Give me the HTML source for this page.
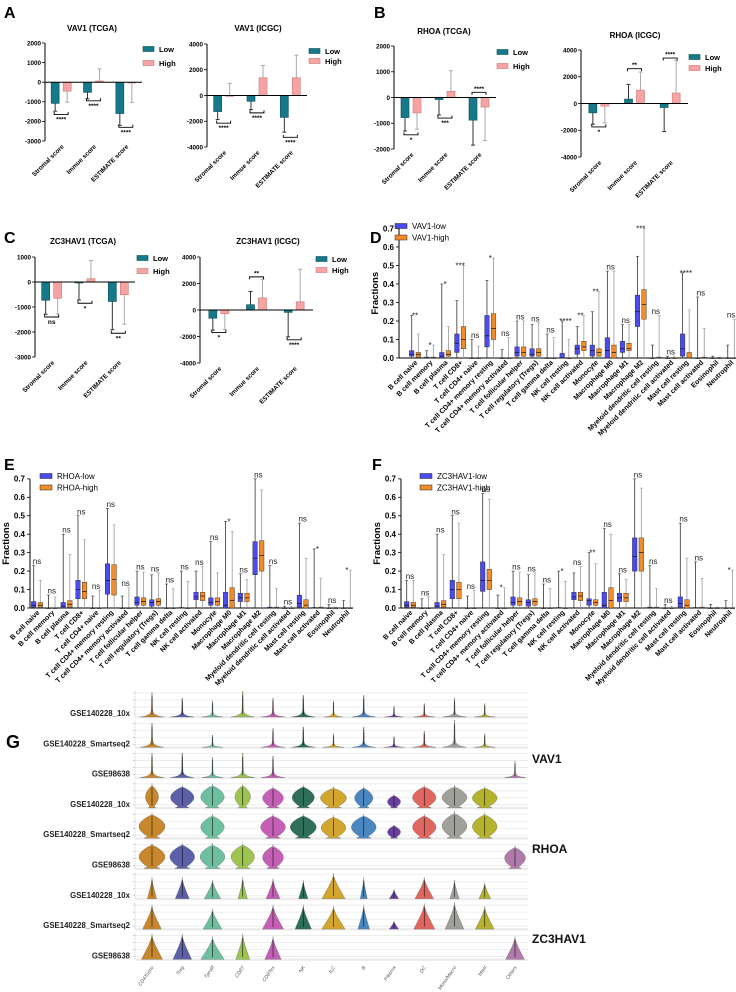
<!DOCTYPE html>
<html><head><meta charset="utf-8"><style>
html,body{margin:0;padding:0;background:#fff}
svg{display:block;font-family:"Liberation Sans",Arial,sans-serif}
</style></head><body>
<svg id="fig" width="736" height="992" viewBox="0 0 736 992">
<rect width="736" height="992" fill="#fff"/>
</svg>
<script>
// ---------- Bar chart data (panels A-C) ----------
const barCats = ["Stromal score","Immue score","ESTIMATE score"];
const a1Low = [-1080,-520,-1600], a1High = [-460,60,-10], a1LowErr = [400,330,600], a1HighErr = [560,620,1020], a1Brk = [-1650,-950,-2300], a1Stars = ["****","****","****"];
const a2Low = [-1250,-450,-1700], a2High = [0,1380,1380], a2LowErr = [620,650,1150], a2HighErr = [950,950,1750], a2Brk = [-2150,-1350,-3250], a2Stars = ["****","****","****"];
const b1Low = [-780,-80,-880], b1High = [-600,240,-370], b1LowErr = [520,600,970], b1HighErr = [630,800,1300], b1Brk = [-1450,-800,200], b1Stars = ["*","***","****"];
const b2Low = [-700,330,-300], b2High = [-200,1000,780], b2LowErr = [850,1100,1800], b2HighErr = [1250,1350,2450], b2Brk = [-1750,2600,3400], b2Stars = ["*","**","****"];
const c1Low = [-730,-40,-780], c1High = [-650,130,-510], c1LowErr = [560,680,1130], c1HighErr = [630,730,1180], c1Brk = [-1400,-850,-2050], c1Stars = ["ns","*","**"];
const c2Low = [-620,400,-180], c2High = [-280,920,620], c2LowErr = [900,1000,1850], c2HighErr = [1200,1400,2450], c2Brk = [-1700,2500,-2250], c2Stars = ["*","**","****"];

// ---------- Box plot data (panels D-F): [q1, median, q3, max], min = 0 ----------
const immuneCats = ["B cell naive","B cell memory","B cell plasma","T cell CD8+","T cell CD4+ naive","T cell CD4+ memory resting","T cell CD4+ memory activated","T cell follicular helper","T cell regulatory (Tregs)","T cell gamma delta","NK cell resting","NK cell activated","Monocyte","Macrophage M0","Macrophage M1","Macrophage M2","Myeloid dendritic cell resting","Myeloid dendritic cell activated","Mast cell resting","Mast cell activated","Eosinophil","Neutrophil"];
const fracTicks = [0,0.1,0.2,0.3,0.4,0.5,0.6,0.7];
const dLow = [[0.01,0.02,0.04,0.23],[0,0,0.005,0.04],[0,0.01,0.03,0.40],[0.03,0.08,0.13,0.31],[0,0,0,0.10],[0.06,0.12,0.23,0.42],[0,0,0,0.045],[0.01,0.03,0.06,0.20],[0.01,0.02,0.05,0.18],[0,0,0,0.13],[0,0,0.025,0.20],[0.02,0.05,0.07,0.17],[0.01,0.04,0.07,0.25],[0,0.04,0.11,0.47],[0.03,0.05,0.09,0.18],[0.17,0.25,0.34,0.55],[0,0,0,0.07],[0,0,0,0.01],[0.01,0.05,0.13,0.46],[0,0,0,0.33],[0,0,0,0.01],[0,0,0,0.07]];
const dHigh = [[0.005,0.02,0.03,0.13],[0,0,0.005,0.07],[0.01,0.02,0.04,0.17],[0.05,0.10,0.17,0.50],[0,0,0,0.065],[0.10,0.16,0.24,0.54],[0,0,0,0.11],[0.01,0.03,0.06,0.20],[0.01,0.03,0.05,0.19],[0,0,0,0.11],[0,0,0,0.10],[0.04,0.06,0.09,0.23],[0.01,0.03,0.05,0.36],[0,0.03,0.07,0.47],[0.04,0.05,0.08,0.18],[0.21,0.29,0.37,0.70],[0,0,0.005,0.23],[0,0,0,0.01],[0,0,0.03,0.26],[0,0,0.005,0.16],[0,0,0,0.005],[0,0,0,0.21]];
const dStars = ["**","*","*","***","ns","*","ns","ns","ns","ns","****","**","**","ns","ns","***","ns","ns","****","ns","","ns"];
const eLow = [[0.005,0.015,0.035,0.23],[0,0,0,0.07],[0,0.01,0.03,0.40],[0.05,0.10,0.15,0.50],[0,0,0,0.065],[0.075,0.15,0.24,0.54],[0,0,0,0.065],[0.015,0.03,0.06,0.20],[0.01,0.03,0.045,0.18],[0,0,0,0.13],[0,0,0.003,0.20],[0.045,0.06,0.085,0.20],[0.015,0.03,0.055,0.36],[0,0.015,0.085,0.47],[0.035,0.055,0.08,0.185],[0.18,0.27,0.36,0.70],[0,0,0.005,0.23],[0,0,0,0.01],[0.005,0.025,0.07,0.46],[0,0,0.003,0.32],[0,0,0,0.02],[0,0,0,0.04]];
const eHigh = [[0.005,0.015,0.03,0.15],[0,0,0,0.06],[0.005,0.02,0.04,0.29],[0.05,0.09,0.14,0.37],[0,0,0,0.095],[0.07,0.155,0.235,0.45],[0,0,0,0.11],[0.015,0.035,0.055,0.195],[0.015,0.035,0.05,0.19],[0,0,0,0.105],[0,0,0,0.145],[0.04,0.065,0.085,0.225],[0.015,0.035,0.055,0.19],[0,0.04,0.11,0.415],[0.035,0.055,0.08,0.155],[0.20,0.285,0.365,0.64],[0,0,0.005,0.105],[0,0,0,0.01],[0,0.015,0.045,0.27],[0,0,0.005,0.16],[0,0,0,0.005],[0,0,0,0.205]];
const eStars = ["ns","ns","ns","ns","ns","ns","ns","ns","ns","ns","ns","ns","ns","*","ns","ns","ns","ns","ns","*","ns","*"];
const fLow = [[0.005,0.015,0.035,0.15],[0,0,0,0.05],[0,0.01,0.03,0.40],[0.05,0.10,0.15,0.50],[0,0,0,0.065],[0.09,0.15,0.25,0.62],[0,0,0,0.07],[0.015,0.03,0.06,0.20],[0.01,0.03,0.045,0.18],[0,0,0,0.13],[0,0,0.003,0.20],[0.045,0.06,0.085,0.19],[0.015,0.04,0.05,0.30],[0,0.015,0.085,0.43],[0.035,0.055,0.08,0.185],[0.20,0.28,0.38,0.70],[0,0,0.005,0.23],[0,0,0,0.02],[0.005,0.025,0.06,0.46],[0,0,0.003,0.25],[0,0,0,0.02],[0,0,0,0.04]];
const fHigh = [[0.005,0.015,0.03,0.15],[0,0,0,0.06],[0.005,0.02,0.04,0.29],[0.05,0.10,0.14,0.46],[0,0,0,0.095],[0.10,0.15,0.21,0.59],[0,0,0,0.11],[0.015,0.035,0.055,0.195],[0.015,0.035,0.05,0.19],[0,0,0,0.105],[0,0,0,0.145],[0.04,0.065,0.085,0.225],[0.015,0.03,0.045,0.24],[0,0.04,0.11,0.40],[0.035,0.055,0.08,0.155],[0.20,0.30,0.38,0.65],[0,0,0.005,0.105],[0,0,0,0.01],[0,0.015,0.045,0.27],[0,0,0.005,0.16],[0,0,0,0.005],[0,0,0,0.205]];
const fStars = ["ns","ns","ns","ns","ns","ns","*","ns","ns","ns","*","ns","**","ns","ns","ns","ns","ns","ns","ns","","*"];

// ---------- Violin data (panel G) ----------
const cellTypes = ["CD4Tconv","Treg","Tprolif","CD8T","CD8Tex","NK","ILC","B","Plasma","DC","Mono/Macro","Mast","Others"];
const rowNames = ["GSE140228_10x","GSE140228_Smartseq2","GSE98638","GSE140228_10x","GSE140228_Smartseq2","GSE98638","GSE140228_10x","GSE140228_Smartseq2","GSE98638"];
const rowGenes = ["VAV1","VAV1","VAV1","RHOA","RHOA","RHOA","ZC3HAV1","ZC3HAV1","ZC3HAV1"];
const vWidth = [
 [0.9,0.9,0.8,0.9,0.9,0.9,0.7,0.9,0.7,0.8,0.9,0.8,0],
 [0.9,0,0.8,0,0.9,0.9,0.8,0.9,0.8,0.9,0.9,0.8,0],
 [0.9,0.9,0.8,0.9,0.9,0,0,0,0,0,0,0,0.8],
 [0.5,0.9,0.9,0.6,0.8,0.85,1.0,0.7,0.5,0.9,0.95,0.95,0],
 [1.0,0,0.9,0,0.95,1.0,0.95,0.95,0.5,0.9,0.95,0.95,0],
 [1.0,0.95,0.95,0.9,0.8,0,0,0,0,0,0,0,0.8],
 [0.4,0.6,0.7,0.4,0.6,0.4,1.0,0.3,0.4,0.8,0.4,0.5,0],
 [0.8,0,0.8,0,0.9,0.7,1.0,0.5,0.4,0.9,0.8,0.8,0],
 [0.9,0.8,1.0,0.6,0.7,0,0,0,0,0,0,0,0.8]];
const vHeight = [
 [0.9,0.7,0.6,0.95,0.7,0.8,0.6,0.8,0.4,0.5,0.7,0.5,0],
 [0.9,0,0.45,0,0.7,0.75,0.5,0.75,0.4,0.6,1.0,0.5,0],
 [0.9,0.9,0.75,0.9,0.8,0,0,0,0,0,0,0,0.6],
 [0.9,0.85,0.9,0.9,0.8,0.85,0.8,0.8,0.5,0.85,0.85,0.8,0],
 [0.95,0,0.9,0,0.9,0.9,0.85,0.9,0.5,0.9,1.0,0.95,0],
 [0.95,0.95,0.95,0.95,0.9,0,0,0,0,0,0,0,0.85],
 [0.8,0.8,0.7,0.8,0.75,0.7,0.95,0.8,0.35,0.8,0.7,0.6,0],
 [0.9,0,0.75,0,0.9,0.9,0.85,0.9,0.3,0.95,1.0,0.85,0],
 [0.95,0.95,0.85,0.95,0.85,0,0,0,0,0,0,0,0.85]];
const cellColors = ["#c8872c","#5c60a8","#6dbfa0","#9cc44f","#c45fb5","#2e6e5a","#d2a62c","#4a86c0","#6a3fa0","#e0665e","#a0a09a","#b5b22e","#b07aaa"];

const NS="http://www.w3.org/2000/svg";
const svg=document.getElementById('fig');
function el(tag,attrs,parent,text){const e=document.createElementNS(NS,tag);for(const k in attrs)e.setAttribute(k,attrs[k]);if(text!==undefined)e.textContent=text;(parent||svg).appendChild(e);return e;}
function grp(name,parent){const g=el('g',{},parent);return g;}

// Panel letters
[["A",4,18],["B",374,18],["C",4,243],["D",370,243],["E",4,470],["F",372,470],["G",6,748]].forEach(p=>{
  const t=el('text',{x:p[1],y:p[2],'font-size':p[0]==="G"?18:16,'font-weight':'bold',fill:'#000'},svg,p[0]);
  
  
});

function barChart(name,o,low,high,lowErr,highErr,brk,stars){
  const g=grp(name);
  const y=v=>o.yTop+(o.max-v)/(o.max-o.min)*(o.yBot-o.yTop);
  const t=el('text',{x:o.tx,y:o.ty,'font-size':8,'font-weight':'bold','text-anchor':'middle'},g,o.title);
  
  
  el('line',{x1:o.x0,y1:o.yTop,x2:o.x0,y2:o.yBot,stroke:'#000','stroke-width':1},g);
  for(let v=o.min;v<=o.max;v+=o.step){
    el('line',{x1:o.x0-3,y1:y(v),x2:o.x0,y2:y(v),stroke:'#000','stroke-width':0.8},g);
    const tl=el('text',{x:o.x0-4,y:y(v)+2.3,'font-size':6.3,'font-weight':'bold','text-anchor':'end'},g,String(v));
    
    
  }
  const cw=(o.x1-o.x0)/3;
  for(let i=0;i<3;i++){
    const c=o.x0+cw*(i+0.5);
    const pairs=[[low[i],lowErr[i],c-6,'#16798a','#0d4f5a','#333'],[high[i],highErr[i],c+6,'#f5a3a3','#c77','#aaa']];
    pairs.forEach((p,k)=>{
      const v=p[0],e=p[1],bx=p[2];
      const dir=v<0?-1:1;
      const ye=y(v+dir*e);
      el('line',{x1:bx,y1:y(v),x2:bx,y2:ye,stroke:p[5],'stroke-width':1},g);
      el('line',{x1:bx-2,y1:ye,x2:bx+2,y2:ye,stroke:p[5],'stroke-width':1},g);
      const r=el('rect',{x:bx-4,y:Math.min(y(v),y(0)),width:8,height:Math.max(0.8,Math.abs(y(v)-y(0))),fill:p[3],stroke:p[4],'stroke-width':0.6},g);
      
      
    });
    const by=y(brk[i]);
    const below=brk[i]<Math.min(low[i],high[i]);
    const d=below?-2.5:2.5;
    el('path',{d:`M${c-7} ${by+d} L${c-7} ${by} L${c+7} ${by} L${c+7} ${by+d}`,fill:'none',stroke:'#000','stroke-width':0.9},g);
    const st=el('text',{x:c,y:below?by+7:by-1.5,'font-size':6.5,'font-weight':'bold','text-anchor':'middle'},g,stars[i]);
    
    
    const xl=el('text',{x:0,y:0,'font-size':6.3,'font-weight':'bold','text-anchor':'end',transform:`translate(${c+3},${o.yBot+6}) rotate(-45)`},g,barCats[i]);
    
    
  }
  el('line',{x1:o.x0,y1:y(0),x2:o.x1,y2:y(0),stroke:'#000','stroke-width':1},g);
  [["Low",'#16798a','#0d4f5a',o.ly],["High",'#f5a3a3','#c77',o.ly+o.lg]].forEach(L=>{
    const lg=grp('legend-entry-'+L[0].toLowerCase(),g);
    el('rect',{x:o.lx,y:L[3]-2.5,width:11,height:5,fill:L[1],stroke:L[2],'stroke-width':0.6},lg);
    el('text',{x:o.lx+16,y:L[3]+3,'font-size':7.5,'font-weight':'bold'},lg,L[0]);
  });
}
barChart('chart-vav1-tcga',{x0:45,x1:142,yTop:43,yBot:141,min:-3000,max:2000,step:1000,title:'VAV1 (TCGA)',tx:92,ty:31,lx:143,ly:49,lg:14},a1Low,a1High,a1LowErr,a1HighErr,a1Brk,a1Stars);
barChart('chart-vav1-icgc',{x0:207,x1:307,yTop:44,yBot:147,min:-4000,max:4000,step:2000,title:'VAV1 (ICGC)',tx:258,ty:31,lx:309,ly:51,lg:10},a2Low,a2High,a2LowErr,a2HighErr,a2Brk,a2Stars);
barChart('chart-rhoa-tcga',{x0:394,x1:496,yTop:46,yBot:149,min:-2000,max:2000,step:1000,title:'RHOA (TCGA)',tx:444,ty:34,lx:497,ly:52,lg:14},b1Low,b1High,b1LowErr,b1HighErr,b1Brk,b1Stars);
barChart('chart-rhoa-icgc',{x0:581,x1:688,yTop:50,yBot:157,min:-4000,max:4000,step:2000,title:'RHOA (ICGC)',tx:635,ty:38,lx:689,ly:57,lg:11},b2Low,b2High,b2LowErr,b2HighErr,b2Brk,b2Stars);
barChart('chart-zc3hav1-tcga',{x0:35,x1:135,yTop:257,yBot:357,min:-3000,max:1000,step:1000,title:'ZC3HAV1 (TCGA)',tx:83,ty:244,lx:137,ly:258,lg:13},c1Low,c1High,c1LowErr,c1HighErr,c1Brk,c1Stars);
barChart('chart-zc3hav1-icgc',{x0:200,x1:313,yTop:257,yBot:363,min:-4000,max:4000,step:2000,title:'ZC3HAV1 (ICGC)',tx:268,ty:244,lx:316,ly:259,lg:11},c2Low,c2High,c2LowErr,c2HighErr,c2Brk,c2Stars);

function boxChart(name,o,low,high,stars,gene){
  const g=grp(name);
  const y=v=>o.y0-v/0.1*o.u;
  el('line',{x1:o.ax,y1:y(0.7),x2:o.ax,y2:o.y0,stroke:'#000','stroke-width':1},g);
  el('line',{x1:o.ax,y1:o.y0,x2:o.x1,y2:o.y0,stroke:'#000','stroke-width':1},g);
  fracTicks.forEach(v=>{
    el('line',{x1:o.ax-3,y1:y(v),x2:o.ax,y2:y(v),stroke:'#000','stroke-width':0.8},g);
    const tl=el('text',{x:o.ax-5,y:y(v)+2.8,'font-size':8,'font-weight':'bold','text-anchor':'end'},g,v.toFixed(1));
    
    
  });
  const yl=el('text',{x:0,y:0,'font-size':9.5,'font-weight':'bold','text-anchor':'middle',transform:`translate(${o.ax-21},${y(0.35)}) rotate(-90)`},g,'Fractions');
  
  
  immuneCats.forEach((cat,i)=>{
    const c=o.c0+i*o.sp;
    [[low[i],c-3.3,'#4b4bef','#333'],[high[i],c+3.3,'#f28c28','#999']].forEach((b,k)=>{
      const d=b[0],bx=b[1];
      el('line',{x1:bx,y1:y(0),x2:bx,y2:y(d[3]),stroke:b[3],'stroke-width':0.8},g);
      el('line',{x1:bx-1.5,y1:y(d[3]),x2:bx+1.5,y2:y(d[3]),stroke:b[3],'stroke-width':0.6},g);
      const r=el('rect',{x:bx-2.3,y:y(d[2]),width:4.6,height:Math.max(0.6,y(d[0])-y(d[2])),fill:b[2],stroke:'#222','stroke-width':0.4},g);
      
      
      el('line',{x1:bx-2.3,y1:y(d[1]),x2:bx+2.3,y2:y(d[1]),stroke:'#111','stroke-width':0.7},g);
    });
    if(stars[i]){
      const mx=Math.max(low[i][3],high[i][3]);
      const st=el('text',{x:c,y:y(mx)+(stars[i]==='ns'?-1.5:3),'font-size':8,'text-anchor':'middle',fill:'#222'},g,stars[i]);
      
      
    }
    const xl=el('text',{x:0,y:0,'font-size':7,'font-weight':'bold','text-anchor':'end',transform:`translate(${c+3},${o.y0+5}) rotate(-45)`},g,cat);
    
    
  });
  [[gene+'-low','#4b4bef',o.ly],[gene+'-high','#f28c28',o.ly+11.5]].forEach(L=>{
    const lg=grp('legend-entry-'+L[0].toLowerCase(),g);
    el('rect',{x:o.lx,y:L[2]-2.5,width:12,height:5,fill:L[1],stroke:'#222','stroke-width':0.5},lg);
    el('text',{x:o.lx+17,y:L[2]+3,'font-size':8},lg,L[0]);
  });
}
boxChart('chart-vav1-immune',{ax:399,x1:735,y0:358,u:18.5,c0:415,sp:15.05,lx:395,ly:226},dLow,dHigh,dStars,'VAV1');
boxChart('chart-rhoa-immune',{ax:30,x1:353,y0:608,u:18.45,c0:37,sp:14.76,lx:40,ly:476},eLow,eHigh,eStars,'RHOA');
boxChart('chart-zc3hav1-immune',{ax:401,x1:735,y0:608,u:18.45,c0:410,sp:15.2,lx:420,ly:476},fLow,fHigh,fStars,'ZC3HAV1');

// ---------- Violin panel G ----------
(function(){
  const g=grp('violin-panel');
  const px0=135,px1=528,rowH=30.3,rb0=717,cx0=152,csp=30.25,maxHalf=13;
  rowNames.forEach((rn,r)=>{
    const base=rb0+r*rowH, top=base-27;
    for(let k=0;k<4;k++){const yy=top+3+k*7;el('line',{x1:px0,y1:yy,x2:px1,y2:yy,stroke:'#e6e6e6','stroke-width':0.7},g);el('line',{x1:px0-2,y1:yy,x2:px0,y2:yy,stroke:'#888','stroke-width':0.4},g);}
    el('rect',{x:px0,y:base-1,width:px1-px0,height:2.5,fill:'#ececec'},g);
    el('line',{x1:px0,y1:top,x2:px0,y2:base,stroke:'#ccc','stroke-width':0.5},g);
    const lt=el('text',{x:130,y:base-1,'font-size':7.8,'font-weight':'bold','text-anchor':'end',fill:'#222'},g,rn);
    
    
    cellTypes.forEach((ct,j)=>{
      const W=vWidth[r][j]*maxHalf, H=vHeight[r][j]*27;
      if(!W||!H)return;
      const cx=cx0+j*csp, gene=rowGenes[r];
      const L=[],R=[];
      for(let s=0;s<=30;s++){
        const t=s/30;let w;
        if(gene==='VAV1') w=W*(0.06+0.94*Math.exp(-t*14))*(1-t*0.6);
        else if(gene==='RHOA') w=W*Math.max(Math.pow(Math.sin(Math.PI*Math.min(1,t*1.1)),0.8),0.6*Math.exp(-t*8));
        else w=W*Math.max(Math.pow(1-t,1.6)*0.9,0.08*(1-t))+W*0.1*Math.sin(Math.PI*t)*(1-t);
        const yy=base-t*H;
        L.push(`${(cx-w).toFixed(2)},${yy.toFixed(2)}`);R.unshift(`${(cx+w).toFixed(2)},${yy.toFixed(2)}`);
      }
      const p=el('polygon',{points:L.concat(R).join(' '),fill:cellColors[j],stroke:'#555','stroke-width':0.3},g);
      
      
      el('line',{x1:cx,y1:base-H*0.1,x2:cx,y2:base-H*0.85,stroke:'#111','stroke-width':0.6},g);
    });
  });
  cellTypes.forEach((ct,j)=>{
    const cx=cx0+j*csp;
    const t=el('text',{x:0,y:0,'font-size':5,'font-style':'italic','text-anchor':'end',fill:'#555',transform:`translate(${cx+2},${rb0+8*rowH+8}) rotate(-55)`},g,ct);
    
    
  });
  [["VAV1",763],["RHOA",853],["ZC3HAV1",943]].forEach(gn=>{
    const t=el('text',{x:532,y:gn[1],'font-size':12,'font-weight':'bold',fill:'#111'},g,gn[0]);
    
    
  });
})();
</script>
</body></html>
